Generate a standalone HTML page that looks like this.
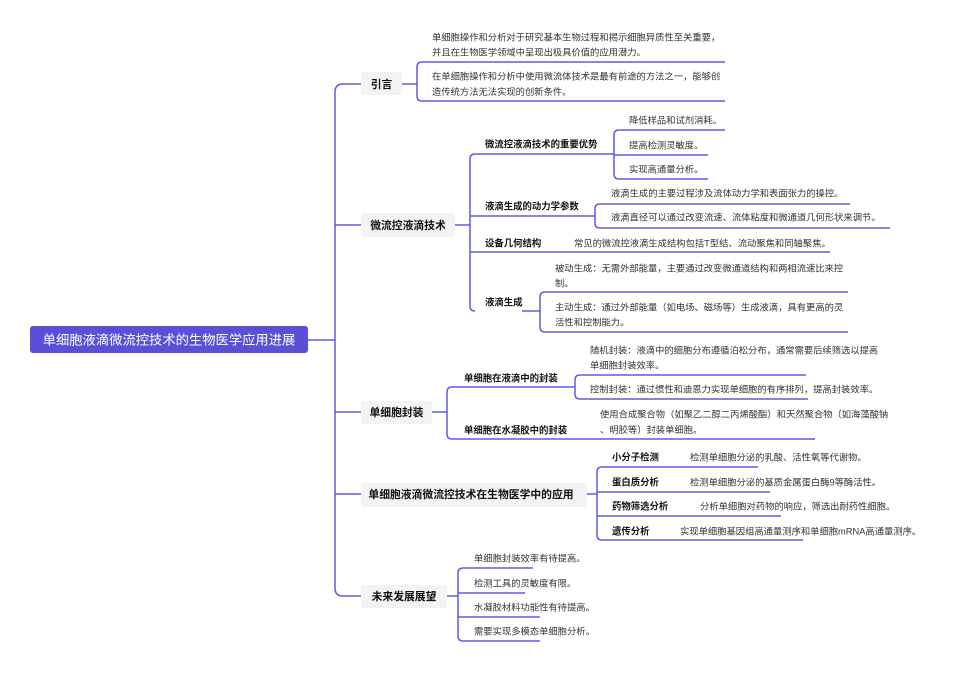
<!DOCTYPE html>
<html><head><meta charset="utf-8"><style>
body{margin:0;background:#fff;width:955px;height:672px;overflow:hidden}
svg text{font-family:"Liberation Sans","Noto Sans CJK SC",sans-serif}
.l{font-size:9.3px;fill:#333}
.b{font-size:9.4px;font-weight:bold;fill:#111}
.h{font-size:10.8px;font-weight:bold;fill:#111}
path,line{stroke:#5f5ce6;stroke-width:1.5;fill:none}
</style></head><body>
<svg width="955" height="672" xmlns="http://www.w3.org/2000/svg">
<rect x="30" y="326" width="278" height="27" rx="3" fill="#5a50d8"/>
<text x="169" y="344.5" text-anchor="middle" style="font-size:13.3px;fill:#fff">单细胞液滴微流控技术的生物医学应用进展</text>
<line x1="308" y1="340" x2="335" y2="340"/>
<path d="M343,84 Q335,84 335,92 L335,588 Q335,596 343,596"/>
<line x1="335" y1="225" x2="361" y2="225"/><line x1="335" y1="412" x2="361" y2="412"/><line x1="335" y1="494" x2="361" y2="494"/>
<line x1="343" y1="84" x2="361" y2="84"/><line x1="343" y1="596" x2="361" y2="596"/>
<g fill="#f3f3f3">
<rect x="361" y="72" width="41" height="23" rx="3"/>
<rect x="361" y="213" width="94" height="24" rx="3"/>
<rect x="361" y="401" width="71" height="23" rx="3"/>
<rect x="361" y="483" width="226" height="24" rx="3"/>
<rect x="361" y="585" width="86" height="23" rx="3"/>
</g>
<text class="h" x="381.5" y="88" text-anchor="middle">引言</text>
<text class="h" x="408" y="229" text-anchor="middle">微流控液滴技术</text>
<text class="h" x="396.5" y="416" text-anchor="middle">单细胞封装</text>
<text class="h" x="471" y="498" text-anchor="middle">单细胞液滴微流控技术在生物医学中的应用</text>
<text class="h" x="404" y="600" text-anchor="middle">未来发展展望</text>

<line x1="402" y1="84" x2="417" y2="84"/>
<path d="M422,62 Q417,62 417,67 L417,96 Q417,101 422,101"/>
<line x1="422" y1="62" x2="725" y2="62"/><line x1="422" y1="101" x2="725" y2="101"/>
<text class="l" x="432" y="40.5">单细胞操作和分析对于研究基本生物过程和揭示细胞异质性至关重要，</text>
<text class="l" x="432" y="55.5">并且在生物医学领域中呈现出极具价值的应用潜力。</text>
<text class="l" x="432" y="79.5">在单细胞操作和分析中使用微流体技术是最有前途的方法之一，能够创</text>
<text class="l" x="432" y="95">造传统方法无法实现的创新条件。</text>

<line x1="455" y1="225" x2="470" y2="225"/>
<path d="M475,154 Q470,154 470,159 L470,306 Q470,311 475,311"/>
<line x1="475" y1="154" x2="614" y2="154"/>
<line x1="470" y1="216" x2="595" y2="216"/>
<line x1="470" y1="252" x2="830" y2="252"/>
<text class="b" x="485" y="147.5">微流控液滴技术的重要优势</text>
<text class="b" x="485" y="209.5">液滴生成的动力学参数</text>
<text class="b" x="485" y="246.5">设备几何结构</text>
<text class="b" x="485" y="305.5">液滴生成</text>
<path d="M619,130 Q614,130 614,135 L614,174 Q614,179 619,179"/>
<line x1="619" y1="130" x2="725" y2="130"/><line x1="614" y1="155" x2="708" y2="155"/><line x1="619" y1="179" x2="708" y2="179"/>
<text class="l" x="629" y="123.5">降低样品和试剂消耗。</text>
<text class="l" x="629" y="148.5">提高检测灵敏度。</text>
<text class="l" x="629" y="172.5">实现高通量分析。</text>
<path d="M600,204 Q595,204 595,209 L595,223 Q595,228 600,228"/>
<line x1="600" y1="204" x2="850" y2="204"/><line x1="600" y1="228" x2="890" y2="228"/>
<text class="l" x="611" y="196.5">液滴生成的主要过程涉及流体动力学和表面张力的操控。</text>
<text class="l" x="611" y="220.5">液滴直径可以通过改变流速、流体粘度和微通道几何形状来调节。</text>
<text class="l" x="574" y="246.5">常见的微流控液滴生成结构包括T型结、流动聚焦和同轴聚焦。</text>
<path d="M545,292 Q540,292 540,297 L540,327 Q540,332 545,332"/>
<line x1="522" y1="311" x2="540" y2="311"/>
<line x1="545" y1="292" x2="848" y2="292"/><line x1="545" y1="332" x2="848" y2="332"/>
<text class="l" x="555" y="271.5">被动生成：无需外部能量，主要通过改变微通道结构和两相流速比来控</text>
<text class="l" x="555" y="286.5">制。</text>
<text class="l" x="555" y="310.5">主动生成：通过外部能量（如电场、磁场等）生成液滴，具有更高的灵</text>
<text class="l" x="555" y="325.5">活性和控制能力。</text>

<line x1="432" y1="412" x2="447" y2="412"/>
<path d="M452,387 Q447,387 447,392 L447,434 Q447,439 452,439"/>
<line x1="452" y1="387" x2="575" y2="387"/><line x1="452" y1="439" x2="815" y2="439"/>
<text class="b" x="464" y="381.5">单细胞在液滴中的封装</text>
<text class="b" x="464" y="433.5">单细胞在水凝胶中的封装</text>
<path d="M580,375 Q575,375 575,380 L575,394 Q575,399 580,399"/>
<line x1="580" y1="375" x2="806" y2="375"/><line x1="580" y1="399" x2="808" y2="399"/>
<text class="l" x="590" y="353.5">随机封装：液滴中的细胞分布遵循泊松分布，通常需要后续筛选以提高</text>
<text class="l" x="590" y="368.5">单细胞封装效率。</text>
<text class="l" x="590" y="392.5">控制封装：通过惯性和迪恩力实现单细胞的有序排列，提高封装效率。</text>
<text class="l" x="600" y="417.5">使用合成聚合物（如聚乙二醇二丙烯酸酯）和天然聚合物（如海藻酸钠</text>
<text class="l" x="600" y="433">、明胶等）封装单细胞。</text>

<line x1="587" y1="494" x2="597" y2="494"/>
<path d="M602,467 Q597,467 597,472 L597,535 Q597,540 602,540"/>
<line x1="602" y1="467" x2="758" y2="467"/><line x1="597" y1="492" x2="770" y2="492"/>
<line x1="597" y1="516" x2="781" y2="516"/><line x1="602" y1="540" x2="803" y2="540"/>
<text class="b" x="612" y="460.5">小分子检测</text>
<text class="b" x="612" y="485.5">蛋白质分析</text>
<text class="b" x="612" y="509.5">药物筛选分析</text>
<text class="b" x="612" y="534.5">遗传分析</text>
<text class="l" x="690" y="460.5">检测单细胞分泌的乳酸、活性氧等代谢物。</text>
<text class="l" x="690" y="485.5">检测单细胞分泌的基质金属蛋白酶9等酶活性。</text>
<text class="l" x="700" y="509.5">分析单细胞对药物的响应，筛选出耐药性细胞。</text>
<text class="l" x="680" y="534.5">实现单细胞基因组高通量测序和单细胞mRNA高通量测序。</text>

<line x1="447" y1="596" x2="458" y2="596"/>
<path d="M463,568 Q458,568 458,573 L458,636 Q458,641 463,641"/>
<line x1="463" y1="568" x2="533" y2="568"/><line x1="458" y1="593" x2="525" y2="593"/>
<line x1="458" y1="617" x2="540" y2="617"/><line x1="463" y1="641" x2="540" y2="641"/>
<text class="l" x="474" y="561.5">单细胞封装效率有待提高。</text>
<text class="l" x="474" y="586.5">检测工具的灵敏度有限。</text>
<text class="l" x="474" y="610.5">水凝胶材料功能性有待提高。</text>
<text class="l" x="474" y="634.5">需要实现多模态单细胞分析。</text>
</svg>
</body></html>
